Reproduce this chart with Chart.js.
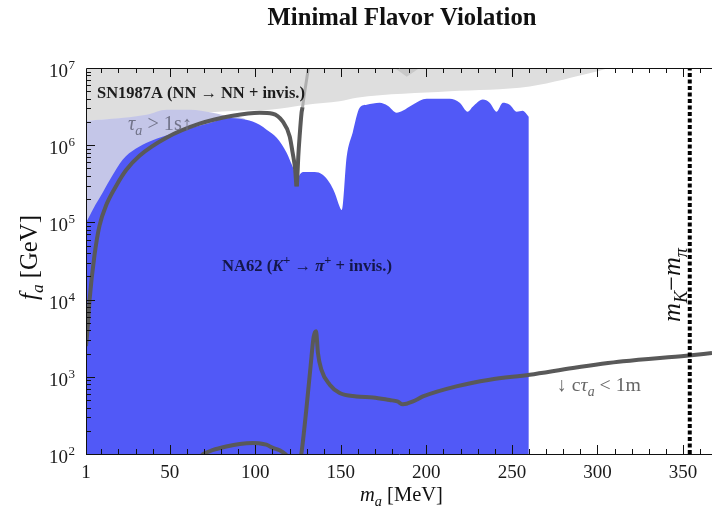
<!DOCTYPE html>
<html><head><meta charset="utf-8">
<script src="https://cdn.jsdelivr.net/npm/chart.js"></script>
<style>html,body{margin:0;padding:0;background:#fff;}canvas{display:block;}</style>
</head><body>
<canvas id="c" width="712" height="516"></canvas>
<script>
// ---- tick labels ----
const xTickLabels = [1, 50, 100, 150, 200, 250, 300, 350];
const yTickValues = [1e2, 1e3, 1e4, 1e5, 1e6, 1e7];

// ---- NA62 excluded region (upper boundary) ----
const naX = [1, 1.9, 6.6, 10.7, 16, 22.4, 30, 38.2, 55.7, 73.3, 85, 90.8, 98.4, 102.5, 106.6, 112.5, 118.3, 120.1, 123, 124.2, 125.9, 128.8, 134.7, 139.4, 143.4, 146.4, 149.3, 150.5, 153.4, 156.9, 161, 165.1, 172.7, 177.4, 182.6, 186.1, 192, 200.2, 213.6, 219.5, 224.2, 227.1, 233, 237, 241.1, 244.7, 248.7, 252.8, 256.3, 259.9];
const naY = [1e5, 1.08e5, 1.7e5, 2.43e5, 3.9e5, 6.5e5, 9e5, 1.12e6, 1.51e6, 1.94e6, 2.25e6, 2.2e6, 2.03e6, 1.84e6, 1.59e6, 1.25e6, 8e5, 6.5e5, 4.4e5, 3.27e5, 4.15e5, 4.5e5, 4.5e5, 4.15e5, 3.27e5, 2.43e5, 1.6e5, 1.45e5, 7.1e5, 1.45e6, 3.06e6, 3.35e6, 3.55e6, 3.25e6, 2.64e6, 2.8e6, 3.35e6, 4e6, 4e6, 3.55e6, 2.72e6, 3.15e6, 3.9e6, 3.55e6, 2.72e6, 3.55e6, 3.35e6, 2.72e6, 2.8e6, 2.34e6];

// ---- tau_a > 1s region (upper boundary) ----
const tauX = [1, 16.5, 36.4, 48.1, 61.6, 75, 86.7, 93.7, 96];
const tauY = [2.07e6, 2.2e6, 2.48e6, 2.88e6, 2.88e6, 2.64e6, 2.34e6, 2.2e6, 1.5e6];

// ---- SN1987A region (lower boundary) ----
const snX = [1, 55.7, 89, 108.4, 130, 149.3, 159.2, 213.6, 260.4, 299.6, 308.4, 367];
const snY = [2.07e6, 2.48e6, 2.8e6, 2.88e6, 3.35e6, 3.71e6, 4.12e6, 5.0e6, 5.78e6, 9.0e6, 1e7, 1e7];
const notchX = [181.5, 188.5, 196];
const notchY = [1e7, 7.7e6, 1e7];

// ---- upper curve (lifetime boundary) ----
const c1aX = [1, 1.9, 3.1, 6.0, 8.9, 12.9, 18.7, 24.6, 32.3, 48.0, 67.4, 86.7, 102.5, 110.1, 116.0, 120.1, 121.8, 123.3, 124.0];
const c1aY = [2.5e3, 4.1e3, 1.0e4, 3.8e4, 9.1e4, 1.69e5, 2.99e5, 4.8e5, 7.3e5, 1.25e6, 1.9e6, 2.41e6, 2.64e6, 2.56e6, 2.03e6, 1.3e6, 8.0e5, 4.8e5, 2.92e5];
const c1bX = [124.3, 124.6, 125.1, 125.9, 127.0, 127.6];
const c1bY = [2.92e5, 4e5, 7e5, 1.3e6, 2.6e6, 3.1e6];
const c1cX = [127.6, 128.8, 130.6, 131.4];
const c1cY = [3.1e6, 4.8e6, 8.7e6, 1.1e7];

// ---- lower curve (c tau_a < 1m) ----
const c2aX = [68.5, 69.6, 75, 83, 90.9, 98.6, 102, 106.4, 110.3, 114.2, 117.5, 118.5];
const c2aY = [95, 100, 112, 125, 135, 139, 138, 132, 120, 112, 100, 95];
const c2bX = [126.5, 126.9, 129.8, 132.3, 134.1, 135.5, 136.6, 138.6, 143.5, 149.3, 159.1, 168.8, 178.5, 183, 186.3, 192.2, 198, 217.5, 237, 260.4, 285.7, 315, 352, 367];
const c2bY = [90, 100, 375, 1365, 3300, 3900, 2030, 1240, 790, 617, 557, 541, 500, 480, 440, 480, 557, 752, 917, 1064, 1300, 1585, 1875, 2030];

// ---- m_K - m_pi ----
const mkX = [354, 354];
const mkY = [100, 1e7];

const pts = (xs, ys) => xs.map((x, i) => ({x, y: ys[i]}));
const SERIF = '"Liberation Serif", "DejaVu Serif", serif';
const BLUE = 'rgb(81,89,247)';
const LAV = 'rgb(196,198,232)';
const GRAY = 'rgb(222,222,222)';
const LINE = '#595959';

function layoutRich(ctx, parts, size, bold) {
  let w = 0; const out = [];
  for (const p of parts) {
    const s = size * (p.s || 1);
    const font = (p.i ? 'italic ' : '') + ((p.b || bold) ? 'bold ' : '') + s + 'px ' + SERIF;
    ctx.font = font;
    const pw = ctx.measureText(p.t).width;
    out.push({t: p.t, font, x: w, dy: (p.dy || 0) * size});
    w += pw;
  }
  return {w, out};
}
function drawRich(ctx, parts, o) {
  let size = o.size;
  let L = layoutRich(ctx, parts, size, o.bold);
  if (o.width) { size = size * o.width / L.w; L = layoutRich(ctx, parts, size, o.bold); }
  ctx.save();
  ctx.translate(o.x, o.y);
  if (o.rot) ctx.rotate(o.rot);
  const x0 = o.align === 'center' ? -L.w / 2 : (o.align === 'right' ? -L.w : 0);
  ctx.fillStyle = o.color || '#111';
  ctx.textBaseline = 'alphabetic';
  ctx.textAlign = 'left';
  for (const q of L.out) { ctx.font = q.font; ctx.fillText(q.t, x0 + q.x, q.dy); }
  ctx.restore();
}

const framePlugin = {
  id: 'frame',
  afterDatasetsDraw(chart) {
    const {ctx, chartArea: a, scales: {x, y}} = chart;
    ctx.save();
    ctx.strokeStyle = '#111'; ctx.lineWidth = 1;
    ctx.beginPath();
    ctx.moveTo(a.right + 2, a.top + 0.5); ctx.lineTo(a.left + 0.5, a.top + 0.5);
    ctx.lineTo(a.left + 0.5, a.bottom + 0.5); ctx.lineTo(a.right + 2, a.bottom + 0.5);
    ctx.stroke();
    ctx.beginPath();
    for (let v = 10; v <= 360; v += 10) {
      const px = Math.round(x.getPixelForValue(v)) + 0.5;
      const len = (v % 50 === 0) ? 9 : 5;
      ctx.moveTo(px, a.bottom); ctx.lineTo(px, a.bottom - len);
      ctx.moveTo(px, a.top); ctx.lineTo(px, a.top + len);
    }
    for (let e = 2; e <= 6; e++) {
      for (let m = 1; m <= 9; m++) {
        const py = Math.round(y.getPixelForValue(m * Math.pow(10, e))) + 0.5;
        const len = m === 1 ? 9 : 5;
        ctx.moveTo(a.left, py); ctx.lineTo(a.left + len, py);
      }
    }
    ctx.stroke();
    ctx.restore();
  },
  afterDraw(chart) {
    const {ctx, scales: {y}} = chart;
    for (const v of yTickValues) {
      const py = y.getPixelForValue(v);
      const e = String(Math.round(Math.log10(v)));
      ctx.save();
      ctx.fillStyle = '#1a1a1a';
      ctx.textBaseline = 'alphabetic';
      ctx.font = '13px ' + SERIF; ctx.textAlign = 'left';
      ctx.fillText(e, 68.5, py + 1);
      ctx.font = '19px ' + SERIF; ctx.textAlign = 'right';
      ctx.fillText('10', 68, py + 9);
      ctx.restore();
    }
    drawRich(ctx, [{t: 'Minimal Flavor Violation'}], {x: 402, y: 25, size: 21, bold: true, align: 'center', width: 269, color: '#111'});
    drawRich(ctx, [{t: 'SN1987A (NN \u2192 NN + invis.)'}], {x: 97, y: 98, size: 15, bold: true, width: 208, color: '#1c1c1c'});
    drawRich(ctx, [{t: '\u03C4', i: 1}, {t: 'a', i: 1, s: 0.7, dy: 0.25}, {t: ' > 1s'}, {t: '\u2191'}], {x: 128, y: 130, size: 15, width: 64, color: '#72748a'});
    drawRich(ctx, [{t: 'NA62 ('}, {t: 'K', i: 1}, {t: '+', s: 0.75, dy: -0.45}, {t: ' \u2192 '}, {t: '\u03C0', i: 1}, {t: '+', s: 0.75, dy: -0.45}, {t: ' + invis.)'}], {x: 222, y: 271, size: 14, bold: true, width: 170, color: '#14174a'});
    drawRich(ctx, [{t: '\u2193 '}, {t: 'c'}, {t: '\u03C4', i: 1}, {t: 'a', i: 1, s: 0.7, dy: 0.25}, {t: ' < 1m'}], {x: 557, y: 391, size: 15, width: 84, color: '#666'});
    drawRich(ctx, [{t: 'm', i: 1}, {t: 'K', i: 1, s: 0.7, dy: 0.25}, {t: '\u2212'}, {t: 'm', i: 1}, {t: '\u03C0', i: 1, s: 0.7, dy: 0.25}], {x: 680, y: 322, size: 19, width: 74, rot: -Math.PI / 2, color: '#111'});
    drawRich(ctx, [{t: 'f', i: 1}, {t: 'a', i: 1, s: 0.7, dy: 0.25}, {t: ' [GeV]'}], {x: 37, y: 300, size: 19, width: 85, rot: -Math.PI / 2, color: '#111'});
    drawRich(ctx, [{t: 'm', i: 1}, {t: 'a', i: 1, s: 0.7, dy: 0.25}, {t: ' [MeV]'}], {x: 360, y: 501, size: 19, width: 83, color: '#111'});
  }
};

const fillDs = (data, color, fill, order, smooth) => ({data, backgroundColor: color, borderColor: 'rgba(0,0,0,0)', borderWidth: 0, fill, order, pointRadius: 0, clip: 0, cubicInterpolationMode: smooth ? 'monotone' : 'default'});
const lineDs = (data, color, w, order, extra) => Object.assign({data, borderColor: color, borderWidth: w, fill: false, order, pointRadius: 0, clip: 0, borderJoinStyle: 'round', borderCapStyle: 'butt', cubicInterpolationMode: 'monotone'}, extra || {});

new Chart(document.getElementById('c'), {
  type: 'line',
  data: {
    datasets: [
      fillDs(pts(snX, snY), GRAY, 'end', 10, true),
      fillDs(pts(notchX, notchY), 'rgb(200,200,200)', 'end', 9, false),
      fillDs(pts(tauX, tauY), LAV, 'start', 8, true),
      fillDs(pts(naX, naY), BLUE, 'start', 7, true),
      lineDs(pts(c2aX, c2aY), LINE, 4, 5),
      lineDs(pts(c2bX, c2bY), LINE, 4, 5),
      lineDs(pts(c1aX, c1aY), LINE, 4, 4),
      lineDs(pts(c1bX, c1bY), LINE, 4, 4),
      lineDs(pts(c1cX, c1cY), 'rgb(175,175,175)', 3, 4),
      lineDs(pts(mkX, mkY), '#000', 4, 3, {borderDash: [4, 2.5], cubicInterpolationMode: 'default'})
    ]
  },
  options: {
    responsive: false,
    animation: false,
    layout: {padding: {top: 68, left: 0, right: 0, bottom: 0}},
    elements: {line: {tension: 0}, point: {radius: 0}},
    plugins: {legend: {display: false}, tooltip: {enabled: false}, title: {display: false}},
    scales: {
      x: {
        type: 'linear', min: 1, max: 367,
        grid: {display: false, drawTicks: false}, border: {display: false},
        ticks: {padding: 8, color: '#1a1a1a', font: {family: SERIF, size: 19}, maxRotation: 0, autoSkip: false},
        afterBuildTicks: s => { s.ticks = xTickLabels.map(v => ({value: v})); },
        afterFit: s => { s.height = 62; }
      },
      y: {
        type: 'logarithmic', min: 1e2, max: 1e7,
        grid: {display: false, drawTicks: false}, border: {display: false},
        ticks: {display: false},
        afterBuildTicks: s => { s.ticks = yTickValues.map(v => ({value: v})); },
        afterFit: s => { s.width = 86; }
      }
    }
  },
  plugins: [framePlugin]
});
</script>
</body></html>
